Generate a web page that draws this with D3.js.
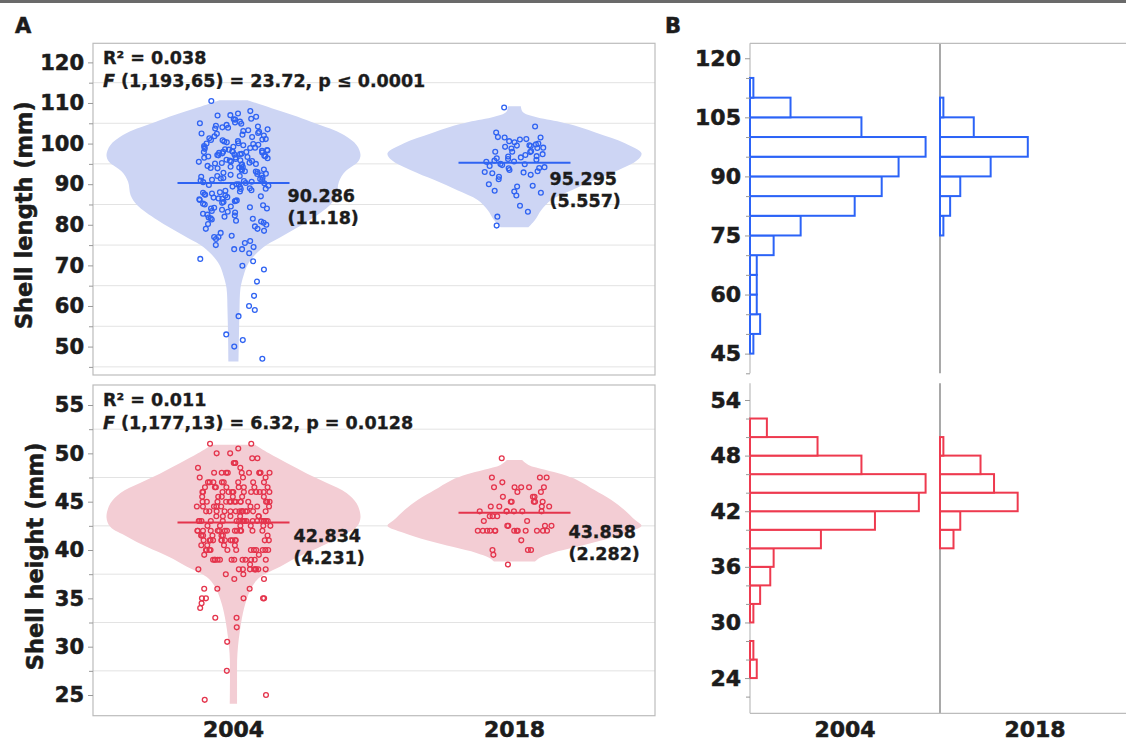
<!DOCTYPE html>
<html>
<head>
<meta charset="utf-8">
<script src="https://cdn.jsdelivr.net/npm/d3@7"></script>
<style>
  body { margin: 0; background: #fff; }
  text { font-family: "DejaVu Sans", sans-serif; font-weight: bold; fill: #1c1c1c; stroke: #1c1c1c; stroke-width: 0.55px; }
  text.small { stroke-width: 0.35px; }
</style>
</head>
<body>
<svg id="chart" width="1126" height="743"></svg>
<script>
'use strict';

// ---- data ----
var years = ["2004", "2018"];

// shell length (mm), individual shells
var length2004 = [110.5,
  108.0, 107.4, 107.0, 106.9, 106.6, 106.1, 106.0, 105.9, 105.2, 105.0, 105.4,
  104.9, 104.6, 104.2, 104.0, 103.9, 103.7, 103.5, 103.3, 102.9, 102.6, 102.5, 102.2, 102.0, 101.8,
  101.6, 101.3, 101.0, 100.9, 100.8, 100.6, 100.5, 100.3, 100.1, 100.0, 103.1, 101.1, 104.4, 102.4,
  99.9, 99.7, 99.6, 99.4, 99.2, 99.0, 98.9, 98.7, 98.5, 98.3, 98.2, 98.1, 98.0, 98.0, 97.9, 97.8,
  97.7, 97.6, 97.5, 97.4, 97.3, 97.1, 97.0, 96.9, 96.8, 96.7, 96.5, 96.4, 96.2, 96.0, 95.9, 95.8,
  95.6, 95.5, 95.3, 95.2, 95.1, 95.0, 98.4, 97.2, 99.1, 96.6, 98.6, 97.9, 95.7,
  94.9, 94.7, 94.5, 94.3, 94.1, 94.0, 93.9, 93.6, 93.4, 93.2, 93.0, 92.8, 92.5, 92.3, 92.0, 92.0,
  91.8, 91.5, 91.3, 91.1, 91.0, 90.8, 90.6, 90.5, 90.3, 90.2, 90.0, 90.0, 94.2, 93.7, 92.6, 91.6,
  90.9, 93.1, 92.2, 91.4,
  89.8, 89.6, 89.3, 89.0, 88.8, 88.5, 88.2, 88.0, 87.7, 87.5, 87.2, 87.0, 86.8, 86.5, 86.3, 86.1,
  86.0, 85.8, 85.6, 85.4, 85.2, 85.0, 88.9, 87.9, 86.7, 85.9, 89.4, 86.4, 87.4, 88.4,
  84.8, 84.5, 84.2, 84.0, 84.0, 83.7, 83.4, 83.0, 82.7, 82.3, 82.0, 81.8, 81.5, 81.3, 81.0, 80.8,
  80.5, 80.2, 80.0, 84.3, 82.5, 81.6, 83.2,
  79.6, 79.0, 79.0, 78.5, 78.0, 77.3, 77.0, 77.0, 76.5, 76.0, 75.5, 75.0,
  74.5, 74.0, 74.0, 73.0, 71.6, 71.0, 69.9, 69.0, 66.0, 62.5, 60.0, 59.0, 57.5, 53.0, 51.6, 50.0, 47.0];

var length2018 = [108.9, 104.2, 102.7, 101.5, 101.5, 101.6, 101.1, 101.0, 100.3, 100.0, 99.8, 99.5,
  99.6, 99.2, 99.4, 98.8, 98.9, 98.0, 98.1, 97.9, 98.0, 97.4, 96.9, 96.6, 96.2, 96.8, 96.0, 95.6,
  95.5, 95.8, 95.0, 94.9, 94.5, 94.0, 93.9, 94.2, 93.5, 93.0, 92.7, 93.2, 92.9, 91.8, 91.2, 90.0,
  89.6, 89.4, 88.2, 88.4, 87.9, 87.2, 84.7, 83.2, 82.0, 79.8, 97.2, 100.6, 96.4, 94.7, 99.0, 92.3];

// shell height (mm), individual shells
var height2004 = [51, 51, 50.5, 50, 50, 49.5, 49.5, 49, 49, 49, 48.5, 48.5,
  48, 48, 48, 48, 48, 48, 48, 48, 48, 48, 47.5, 47.5, 47.5,
  47, 47, 47, 47, 47, 47, 47, 47, 46.5, 46.5, 46.5, 46.5, 46.5, 46.5, 46.5, 46.5,
  46, 46, 46, 46, 46, 46, 46, 46, 46, 46, 46, 46, 45.5, 45.5, 45.5, 45.5, 45.5, 45.5,
  45, 45, 45, 45, 45, 45, 45, 45, 45, 45, 45, 45, 45, 45, 44.5, 44.5, 44.5, 44.5, 44.5, 44.5, 44.5, 44.5,
  44, 44, 44, 44, 44, 44, 44, 44, 44, 44, 44, 44, 44, 44, 43.5, 43.5, 43.5, 43.5, 43.5, 43.5,
  43, 43, 43, 43, 43, 43, 43, 43, 43, 43, 43, 43, 43, 43, 43, 43, 43, 43, 42.5, 42.5, 42.5, 42.5, 42.5, 42.5,
  42, 42, 42, 42, 42, 42, 42, 42, 42, 42, 42, 42, 42, 42, 41.5, 41.5, 41.5, 41.5, 41.5, 41.5, 41.5,
  41, 41, 41, 41, 41, 41, 41, 41, 41, 41, 41, 41, 41, 40.5, 40.5, 40.5, 40.5,
  40, 40, 40, 40, 40, 40, 40, 40, 40, 40, 40, 40, 39.5, 39.5,
  39, 39, 39, 39, 39, 39, 39, 39, 39, 39, 39, 39, 38.5, 38, 38, 38, 38, 38, 38, 38, 38, 38,
  37.5, 37.5, 37, 37, 36, 36, 36, 35, 35, 35, 35, 35, 34.5, 34, 33, 33, 32, 30.5, 27.5, 25, 24.5];

var height2018 = [49.5, 47.5, 47.5, 47, 47.5, 46.5, 46.5, 46.5, 46.5, 46.5, 46, 46, 45.5, 45.5, 45.5,
  45, 45, 45, 45, 45, 44.5, 44.5, 44.5, 44, 44, 44, 44, 44, 44, 43.5, 43.5, 43, 43,
  42.5, 42.5, 42.5, 42.5, 42, 42, 42, 42, 42, 42, 42, 42, 42, 42, 42, 42, 42,
  41, 40, 39.5, 40, 40, 38.5, 43.5, 44.5];

// violin outlines: [value, relative density]
var lengthViolin2004 = [[110.7, 0.11], [108.7, 0.30], [107.0, 0.47], [105.4, 0.61], [103.7, 0.76],
  [102.1, 0.87], [99.6, 0.97], [97.2, 1.0], [95.5, 0.98], [93.1, 0.88], [90.6, 0.83], [87.3, 0.81],
  [84.9, 0.76], [81.2, 0.60], [77.5, 0.40], [75.0, 0.26], [72.6, 0.17], [70.1, 0.11], [67.6, 0.08],
  [64.4, 0.055], [58.6, 0.047], [52.9, 0.043], [46.3, 0.04]];
var lengthViolin2018 = [[109.2, 0.05], [107.8, 0.065], [106.6, 0.16], [105.3, 0.36], [104.1, 0.51],
  [102.5, 0.66], [100.1, 0.87], [97.6, 1.0], [96.0, 0.97], [93.5, 0.82], [91.0, 0.63], [88.5, 0.45],
  [86.1, 0.29], [83.6, 0.21], [81.1, 0.16], [79.4, 0.11]];
var heightViolin2004 = [[50.9, 0.17], [50.0, 0.28], [49.0, 0.42], [47.9, 0.58], [46.9, 0.74],
  [45.9, 0.89], [44.8, 0.97], [43.4, 1.0], [42.4, 0.97], [41.4, 0.84], [40.3, 0.68], [39.3, 0.51],
  [38.3, 0.37], [37.2, 0.21], [36.2, 0.146], [34.5, 0.094], [32.4, 0.059], [29.3, 0.031],
  [26.9, 0.028], [24.1, 0.029]];
var heightViolin2018 = [[49.3, 0.06], [48.8, 0.11], [48.3, 0.24], [47.8, 0.38], [47.2, 0.5],
  [46.2, 0.63], [45.2, 0.76], [44.1, 0.87], [43.1, 0.95], [42.5, 1.0], [41.8, 0.88], [41.0, 0.69],
  [40.3, 0.48], [39.7, 0.3], [39.2, 0.2], [38.8, 0.16]];

// group means and (sd)
var lengthMeans = [90.286, 95.295];
var lengthSds = ["11.18", "5.557"];
var heightMeans = [42.834, 43.858];
var heightSds = ["4.231", "2.282"];

// histogram counts per bin (bins start at these values)
var lengthBins = [45, 50, 55, 60, 65, 70, 75, 80, 85, 90, 95, 100, 105, 110];
var lengthCounts2004 = [1, 3, 2, 2, 2, 7, 15, 31, 39, 44, 52, 33, 12, 1];
var lengthCounts2018 = [0, 0, 0, 0, 0, 0, 1, 3, 6, 15, 26, 10, 1, 0];
var heightBins = [24, 26, 28, 30, 32, 34, 36, 38, 40, 42, 44, 46, 48, 50];
var heightCounts2004 = [2, 1, 0, 1, 3, 6, 7, 21, 37, 50, 52, 33, 20, 5];
var heightCounts2018 = [0, 0, 0, 0, 0, 0, 0, 4, 6, 23, 16, 12, 1, 0];

// tick values
var lengthTicks = [50, 60, 70, 80, 90, 100, 110, 120];
var lengthMinor = [45, 55, 65, 75, 85, 95, 105, 115];
var heightTicks = [25, 30, 35, 40, 45, 50, 55];
var heightMinor = [27.5, 32.5, 37.5, 42.5, 47.5, 52.5];
var histLengthTicks = [45, 60, 75, 90, 105, 120];
var histLengthMinor = [40, 50, 55, 65, 70, 80, 85, 95, 100, 110, 115];
var histHeightTicks = [24, 30, 36, 42, 48, 54];
var histHeightMinor = [22, 26, 28, 32, 34, 38, 40, 44, 46, 50, 52];

// ---- drawing ----
var svg = d3.select("#chart");
var BLUE = "#2f63f2", RED = "#e4344c";

svg.append("rect").attr("x", 0).attr("y", 0).attr("width", 1126).attr("height", 3).attr("fill", "#6a6a6a");
svg.append("text").attr("x", 15).attr("y", 33).style("font-size", "21px").text("A");
svg.append("text").attr("x", 665).attr("y", 33).style("font-size", "21px").text("B");

var xBand = d3.scaleBand().domain(years).range([93, 655]);

// horizontal scatter of points inside a group (position only)
function jitter(i) {
  var s = Math.sin(i * 12.9898 + 78.233) * 43758.5453;
  return (s - Math.floor(s)) - 0.5;
}

function styleAxis(g, fontSize) {
  g.select(".domain").remove();
  g.selectAll(".tick line").attr("stroke", "#999");
  g.selectAll(".tick text").style("font-size", fontSize).attr("fill", "#1c1c1c")
    .style("font-family", "'DejaVu Sans', sans-serif").style("font-weight", "bold");
}

function drawViolinPanel(p) {
  var y = d3.scaleLinear().domain(p.domain).range([p.bottom, p.top]);
  var g = svg.append("g");

  // grid lines
  g.selectAll("line.grid").data(p.minor).enter().append("line")
    .attr("x1", 93).attr("x2", 655)
    .attr("y1", function (d) { return y(d); }).attr("y2", function (d) { return y(d); })
    .attr("stroke", "#e3e3e3").attr("stroke-width", 1);

  var w = d3.scaleLinear().domain([0, 1]).range([0, xBand.bandwidth() * 0.452]);

  years.forEach(function (yr, k) {
    var cx = xBand(yr) + xBand.bandwidth() / 2;
    var area = d3.area()
      .y(function (d) { return y(d[0]); })
      .x0(function (d) { return cx - w(d[1]); })
      .x1(function (d) { return cx + w(d[1]); })
      .curve(d3.curveCatmullRom.alpha(0.5));
    g.append("path").datum(p.violins[k]).attr("d", area).attr("fill", p.fill);

    g.selectAll("circle.p" + k).data(p.points[k]).enter().append("circle")
      .attr("cx", function (d, i) { return cx + jitter(i + k * 500) * 2 * p.spread[k]; })
      .attr("cy", function (d) { return y(d); })
      .attr("r", 2.4)
      .attr("fill", "none").attr("stroke", p.color).attr("stroke-width", 1.3);

    var ym = y(p.means[k]);
    g.append("line").attr("x1", cx - 56).attr("x2", cx + 56).attr("y1", ym).attr("y2", ym)
      .attr("stroke", p.color).attr("stroke-width", 2);

    var lab = g.append("text").attr("class", "small").attr("x", cx + p.labelDx[k]).attr("y", ym + p.labelDy[k])
      .style("font-size", "17.5px");
    lab.append("tspan").text(String(p.means[k]));
    lab.append("tspan").attr("x", cx + p.labelDx[k]).attr("dy", 22).text("(" + p.sds[k] + ")");
  });

  // stats text
  g.append("text").attr("class", "small").attr("x", 103).attr("y", p.top + 21)
    .style("font-size", "17.5px").text(p.r2);
  var f = g.append("text").attr("class", "small").attr("x", 103).attr("y", p.top + 44)
    .style("font-size", "17.5px");
  f.append("tspan").style("font-style", "italic").text("F");
  f.append("tspan").text(p.ftext);

  // frame
  g.append("rect").attr("x", 93).attr("y", p.top).attr("width", 655 - 93).attr("height", p.bottom - p.top)
    .attr("fill", "none").attr("stroke", "#bcbcbc").attr("stroke-width", 1.2);

  var ax = g.append("g").attr("transform", "translate(93,0)")
    .call(d3.axisLeft(y).tickValues(p.ticks).tickSize(5).tickPadding(4));
  styleAxis(ax, "21px");
  var axm = g.append("g").attr("transform", "translate(93,0)")
    .call(d3.axisLeft(y).tickValues(p.minor).tickSize(4).tickFormat(""));
  styleAxis(axm, "21px");

  g.append("text").attr("transform", "translate(" + p.titleX + "," + ((p.top + p.bottom) / 2 + 6) + ") rotate(-90)")
    .attr("text-anchor", "middle").style("font-size", "22.5px").text(p.title);
}

drawViolinPanel({
  top: 43.3, bottom: 375, domain: [43.0, 124.7],
  ticks: lengthTicks, minor: lengthMinor,
  violins: [lengthViolin2004, lengthViolin2018],
  points: [length2004, length2018], spread: [35, 30],
  means: lengthMeans, sds: lengthSds,
  labelDx: [54, 35], labelDy: [19, 22],
  fill: "#cdd5f4", color: BLUE,
  r2: "R\u00b2 = 0.038", ftext: " (1,193,65) = 23.72, p \u2264 0.0001",
  title: "Shell length (mm)", titleX: 32
});

drawViolinPanel({
  top: 385, bottom: 715.7, domain: [22.86, 57.07],
  ticks: heightTicks, minor: heightMinor,
  violins: [heightViolin2004, heightViolin2018],
  points: [height2004, height2018], spread: [37, 37],
  means: heightMeans, sds: heightSds,
  labelDx: [60, 54], labelDy: [19, 25],
  fill: "#f3cdd4", color: RED,
  r2: "R\u00b2 = 0.011", ftext: " (1,177,13) = 6.32, p = 0.0128",
  title: "Shell height (mm)", titleX: 43
});

// x labels under left panels
svg.selectAll("text.xl").data(years).enter().append("text")
  .attr("x", function (d) { return xBand(d) + xBand.bandwidth() / 2; })
  .attr("y", 737).attr("text-anchor", "middle").style("font-size", "22px")
  .text(function (d) { return d; });

// ---- histograms (B) ----
var xBandB = d3.scaleBand().domain(years).range([750, 1130]);
var xCount = d3.scaleLinear().domain([0, 52]).range([0, 175.6]);

function drawHistPanel(p) {
  var y = d3.scaleLinear().domain(p.domain).range([p.bottom, p.top]);
  var g = svg.append("g");

  // separator between years
  g.append("line").attr("x1", xBandB("2018")).attr("x2", xBandB("2018"))
    .attr("y1", p.top).attr("y2", p.bottom).attr("stroke", "#7a7a7a").attr("stroke-width", 1.3);

  var edgeY = p.frameTop ? p.top : p.bottom;
  g.append("line").attr("x1", 750).attr("x2", 1126).attr("y1", edgeY).attr("y2", edgeY)
    .attr("stroke", "#bcbcbc").attr("stroke-width", 1.2);
  g.append("line").attr("x1", 750).attr("x2", 750).attr("y1", p.top).attr("y2", p.bottom)
    .attr("stroke", "#bcbcbc").attr("stroke-width", 1.2);

  years.forEach(function (yr, k) {
    var counts = p.counts[k];
    var bins = p.bins.map(function (b, i) { return { lo: b, hi: b + p.step, n: counts[i] }; })
      .filter(function (d) { return d.n > 0; });
    g.selectAll("rect.h" + k).data(bins).enter().append("rect")
      .attr("x", xBandB(yr))
      .attr("y", function (d) { return y(d.hi); })
      .attr("width", function (d) { return xCount(d.n); })
      .attr("height", function (d) { return y(d.lo) - y(d.hi); })
      .attr("fill", "#fff").attr("stroke", p.color).attr("stroke-width", 2);
  });

  var ax = g.append("g").attr("transform", "translate(750,0)")
    .call(d3.axisLeft(y).tickValues(p.ticks).tickSize(5).tickPadding(4));
  styleAxis(ax, "22px");
  var axm = g.append("g").attr("transform", "translate(750,0)")
    .call(d3.axisLeft(y).tickValues(p.minor).tickSize(4).tickFormat(""));
  styleAxis(axm, "22px");
}

drawHistPanel({
  top: 43.3, bottom: 373.3, domain: [40, 123.8], step: 5,
  bins: lengthBins, counts: [lengthCounts2004, lengthCounts2018],
  ticks: histLengthTicks, minor: histLengthMinor, color: "#2b63f7", frameTop: true
});

drawHistPanel({
  top: 383.3, bottom: 713.3, domain: [20.2, 55.8], step: 2,
  bins: heightBins, counts: [heightCounts2004, heightCounts2018],
  ticks: histHeightTicks, minor: histHeightMinor, color: "#ee3a4f", frameTop: false
});

svg.selectAll("text.xlb").data(years).enter().append("text")
  .attr("x", function (d) { return xBandB(d) + xBandB.bandwidth() / 2; })
  .attr("y", 737).attr("text-anchor", "middle").style("font-size", "22px")
  .text(function (d) { return d; });
</script>
</body>
</html>
